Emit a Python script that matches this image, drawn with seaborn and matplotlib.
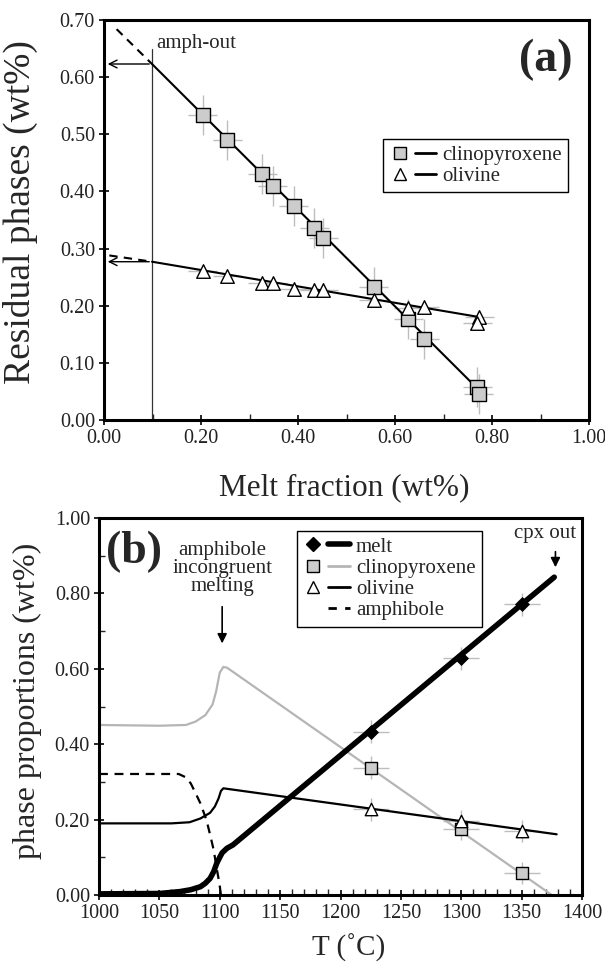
import numpy as np
import matplotlib
matplotlib.use("Agg")
import matplotlib.pyplot as plt
import seaborn as sns
from matplotlib.lines import Line2D
from matplotlib.legend_handler import HandlerTuple
from matplotlib.ticker import MultipleLocator, FormatStrFormatter

# ---- panel (a) data: residual phases vs melt fraction ----
melt_frac = [0.204, 0.254, 0.326, 0.348, 0.391, 0.434, 0.452, 0.556, 0.627, 0.660, 0.770, 0.773]
cpx_a = [0.534, 0.490, 0.431, 0.409, 0.375, 0.336, 0.319, 0.232, 0.177, 0.141, 0.058, 0.045]
ol_frac = [0.204, 0.254, 0.326, 0.348, 0.391, 0.434, 0.452, 0.556, 0.627, 0.660, 0.774, 0.770]
ol_a = [0.260, 0.252, 0.240, 0.239, 0.230, 0.228, 0.227, 0.210, 0.196, 0.198, 0.181, 0.170]

cpx_fit_x = [0.099, 0.770]
cpx_fit_y = [0.623, 0.055]
cpx_ext_x = [0.026, 0.099]
cpx_ext_y = [0.684, 0.623]
ol_fit_x = [0.099, 0.775]
ol_fit_y = [0.277, 0.180]
ol_ext_x = [0.011, 0.099]
ol_ext_y = [0.288, 0.277]
amph_out = 0.099

# ---- panel (b) data: phase proportions vs temperature ----
T_pts = [1225, 1300, 1350]
melt_pts = [0.433, 0.628, 0.771]
cpx_pts = [0.338, 0.175, 0.058]
ol_pts = [0.227, 0.196, 0.170]

T_melt = [1000, 1050, 1067, 1076, 1084, 1088, 1092, 1095, 1097.5, 1100, 1102, 1106, 1111, 1377]
melt_curve = [0.003, 0.004, 0.009, 0.014, 0.022, 0.031, 0.044, 0.062, 0.084, 0.100, 0.112, 0.124, 0.133, 0.843]
T_cpx = [1000, 1050, 1072, 1080, 1088, 1094, 1097, 1100, 1103, 1106, 1375]
cpx_curve = [0.451, 0.449, 0.451, 0.460, 0.477, 0.505, 0.540, 0.590, 0.605, 0.603, 0.0]
T_ol = [1000, 1060, 1075, 1084, 1092, 1096, 1099, 1101, 1103, 1379]
ol_curve = [0.190, 0.190, 0.193, 0.203, 0.218, 0.235, 0.256, 0.276, 0.283, 0.161]
T_amph = [1000, 1066, 1072, 1076, 1080, 1084, 1089, 1092, 1095, 1097.5, 1099.7, 1101]
amph_curve = [0.321, 0.321, 0.312, 0.296, 0.270, 0.243, 0.199, 0.160, 0.119, 0.070, 0.031, 0.0]

sns.set_theme(style="ticks")
plt.rcParams["font.family"] = ["Liberation Serif", "DejaVu Serif"]

fig = plt.figure(figsize=(6.05, 9.64), dpi=100)
ax1 = fig.add_axes([104 / 605, 1 - 420 / 964, 485 / 605, 400 / 964])
ax2 = fig.add_axes([99 / 605, 1 - 895 / 964, 483 / 605, 377 / 964])

ERR = "#bdbdbd"
SQ = "#cccccc"


def style_axes(ax):
    for s in ax.spines.values():
        s.set_linewidth(2.2)
        s.set_color("black")
    ax.tick_params(which="major", direction="inout", length=7, width=1.2,
                   labelsize=14.5, colors="black", pad=3)
    ax.tick_params(which="minor", direction="in", length=4, width=1.0)
    ax.tick_params(axis="both", labelcolor="#222222")


def make_legend(ax, handles, labels, **kw):
    leg = ax.legend(handles, labels,
                    handler_map={tuple: HandlerTuple(ndivide=None, pad=0.2)},
                    fontsize=15, handlelength=2.25, handletextpad=0.3,
                    labelspacing=0.08, borderpad=0.3, borderaxespad=0,
                    fancybox=False, framealpha=1, edgecolor="black", **kw)
    leg.get_frame().set_linewidth(1.0)
    return leg


# ---------------- panel (a) ----------------
ax = ax1
ax.errorbar(melt_frac, cpx_a, xerr=0.03, yerr=0.035, fmt="none", ecolor=ERR, elinewidth=1, zorder=1)
ax.errorbar(ol_frac, ol_a, xerr=0.03, yerr=0.012, fmt="none", ecolor=ERR, elinewidth=1, zorder=1)
sns.lineplot(x=cpx_fit_x, y=cpx_fit_y, ax=ax, color="black", lw=1.5, zorder=2)
sns.lineplot(x=ol_fit_x, y=ol_fit_y, ax=ax, color="black", lw=1.5, zorder=2)
sns.lineplot(x=cpx_ext_x, y=cpx_ext_y, ax=ax, color="black", lw=1.5, linestyle=(0, (4, 3)), zorder=2)
sns.lineplot(x=ol_ext_x, y=ol_ext_y, ax=ax, color="black", lw=1.5, linestyle=(0, (4, 3)), zorder=2)
ax.plot([amph_out, amph_out], [0, 0.65], color="#333333", lw=0.9, zorder=1)
for yv in (cpx_fit_y[0], ol_fit_y[0]):
    ax.annotate("", xy=(0.002, yv), xytext=(amph_out, yv),
                arrowprops=dict(arrowstyle="->", lw=1.0, color="black", mutation_scale=14))
sns.scatterplot(x=melt_frac, y=cpx_a, ax=ax, marker="s", s=100, color=SQ,
                edgecolor="black", linewidth=1.0, zorder=4)
sns.scatterplot(x=ol_frac, y=ol_a, ax=ax, marker="^", s=95, color="white",
                edgecolor="black", linewidth=1.0, zorder=4)
ax.text(0.107, 0.651, "amph-out", fontsize=15, ha="left", va="baseline")
ax.text(0.965, 0.63, "(a)", fontsize=33, fontweight="bold", ha="right", va="center")

ax.set_xlim(0, 1.0)
ax.set_ylim(0, 0.70)
ax.xaxis.set_major_locator(MultipleLocator(0.2))
ax.xaxis.set_minor_locator(MultipleLocator(0.1))
ax.yaxis.set_major_locator(MultipleLocator(0.1))
ax.xaxis.set_major_formatter(FormatStrFormatter("%.2f"))
ax.yaxis.set_major_formatter(FormatStrFormatter("%.2f"))
style_axes(ax)
ax.set_xlabel("Melt fraction (wt%)", fontsize=22.5)
ax.set_ylabel("Residual phases (wt%)", fontsize=27)
ax.xaxis.set_label_coords(0.496, -0.133)
ax.yaxis.set_label_coords(-0.136, 0.52)

h_cpx = (Line2D([], [], ls="none", marker="s", ms=8, mfc=SQ, mec="black", mew=1),
         Line2D([], [], color="black", lw=2))
h_ol = (Line2D([], [], ls="none", marker="^", ms=9, mfc="white", mec="black", mew=1),
        Line2D([], [], color="black", lw=2))
make_legend(ax, [h_cpx, h_ol], ["clinopyroxene", "olivine"],
            loc="upper right", bbox_to_anchor=(0.957, 0.7025))

# ---------------- panel (b) ----------------
ax = ax2
sns.lineplot(x=T_cpx, y=cpx_curve, ax=ax, color="#b5b5b5", lw=1.6, zorder=2)
sns.lineplot(x=T_amph, y=amph_curve, ax=ax, color="black", lw=1.6, linestyle=(0, (4, 3)), zorder=2)
sns.lineplot(x=T_ol, y=ol_curve, ax=ax, color="black", lw=1.6, zorder=2)
sns.lineplot(x=T_melt, y=melt_curve, ax=ax, color="black", lw=4, zorder=3)
for ys in (melt_pts, cpx_pts, ol_pts):
    ax.errorbar(T_pts, ys, xerr=15, yerr=0.03, fmt="none", ecolor=ERR, elinewidth=1, zorder=1)
sns.scatterplot(x=T_pts, y=melt_pts, ax=ax, marker="D", s=50, color="black",
                edgecolor="black", zorder=4)
sns.scatterplot(x=T_pts, y=cpx_pts, ax=ax, marker="s", s=65, color=SQ,
                edgecolor="black", linewidth=1.0, zorder=4)
sns.scatterplot(x=T_pts, y=ol_pts, ax=ax, marker="^", s=80, color="white",
                edgecolor="black", linewidth=1.0, zorder=4)

ax.text(1006, 0.91, "(b)", fontsize=33, fontweight="bold", ha="left", va="center")
ax.text(1102, 0.94, "amphibole\nincongruent\nmelting", fontsize=15, ha="center", va="top",
        linespacing=0.95)
ax.annotate("", xy=(1102, 0.66), xytext=(1102, 0.772),
            arrowprops=dict(arrowstyle="-|>", lw=1.2, color="black", mutation_scale=14))
ax.text(1369, 0.947, "cpx out", fontsize=15, ha="center", va="baseline")
ax.annotate("", xy=(1378, 0.862), xytext=(1378, 0.918),
            arrowprops=dict(arrowstyle="-|>", lw=1.2, color="black", mutation_scale=14))

ax.set_xlim(1000, 1400)
ax.set_ylim(0, 1.0)
ax.xaxis.set_major_locator(MultipleLocator(50))
ax.xaxis.set_minor_locator(MultipleLocator(10))
ax.yaxis.set_major_locator(MultipleLocator(0.2))
ax.yaxis.set_minor_locator(MultipleLocator(0.1))
ax.yaxis.set_major_formatter(FormatStrFormatter("%.2f"))
style_axes(ax)
ax.set_xlabel("T (˚C)", fontsize=21)
ax.set_ylabel("phase proportions (wt%)", fontsize=23)
ax.xaxis.set_label_coords(0.516, -0.103)
ax.yaxis.set_label_coords(-0.118, 0.515)

blank = Line2D([], [], ls="none")
hb = [(Line2D([], [], ls="none", marker="D", ms=7, mfc="black", mec="black"),
       Line2D([], [], color="black", lw=4)),
      (Line2D([], [], ls="none", marker="s", ms=8, mfc=SQ, mec="black", mew=1),
       Line2D([], [], color="#b5b5b5", lw=2)),
      (Line2D([], [], ls="none", marker="^", ms=9, mfc="white", mec="black", mew=1),
       Line2D([], [], color="black", lw=2)),
      (blank, Line2D([], [], color="black", lw=2, ls=(0, (3, 3))))]
make_legend(ax, hb, ["melt", "clinopyroxene", "olivine", "amphibole"],
            loc="upper left", bbox_to_anchor=(0.409, 0.966))

fig.savefig("out.png", dpi=100, facecolor="white")
